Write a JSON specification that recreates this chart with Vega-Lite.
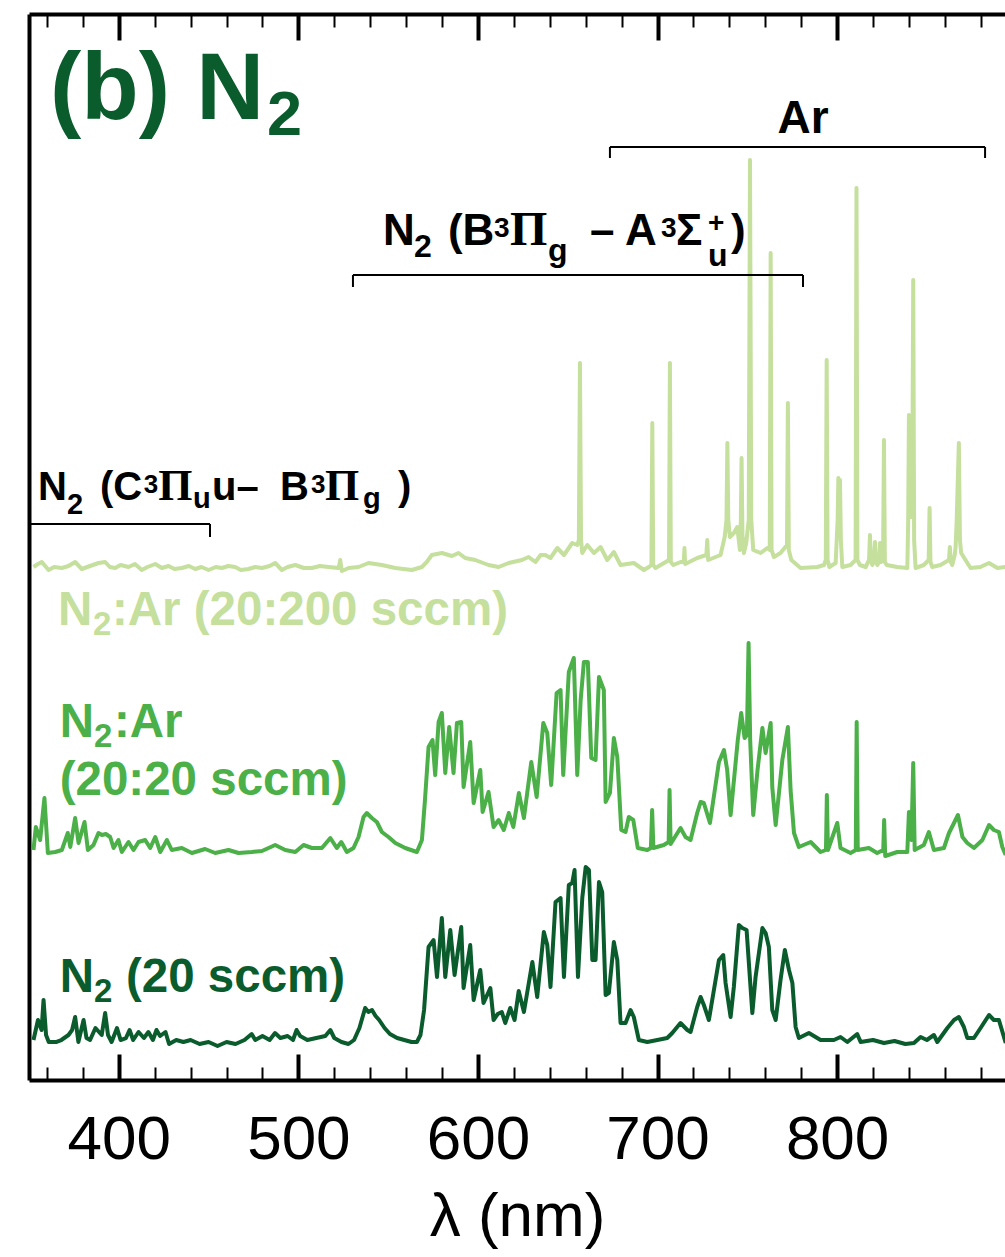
{
"$schema": "https://vega.github.io/schema/vega-lite/v6.json",
"width": 976, "height": 1066,
"autosize": "none",
"padding": {"left": 29, "top": 14, "right": 0, "bottom": 177},
"config": {"view": {"stroke": null}, "font": "Liberation Sans"},
"datasets": {
"n2": [[352.5,40],[355,60],[357,50],[358.1,80],[359.5,45],[361,38],[365,38],[368,40],[372,45],[374,50],[375.7,63],[377.5,38],[380.4,60],[382,42],[384,40],[387,52],[389,48],[390.5,45],[392.4,67],[394,45],[396,38],[399,52],[401,40],[404,42],[406,50],[408,40],[411,48],[414,42],[416.5,48],[419,40],[421,50],[423,44],[426,48],[428,36],[432,40],[436,38],[440,40],[445,36],[450,38],[455,34],[460,38],[465,36],[470,40],[474,46],[476,40],[480,44],[484,40],[487,47],[490,42],[494,44],[497,40],[499,50],[501,44],[505,40],[510,42],[515,44],[517.8,50],[520,42],[524,38],[527.9,36],[531,40],[534,52],[537.2,72],[539,68],[541,70],[543,64],[545,60],[548,52],[551,46],[555,42],[559,40],[563,38],[566,38],[568,45],[570,70],[572.5,133],[575.3,140],[577.2,103],[579.9,162],[581.8,103],[584.6,150],[587,105],[590.7,153],[592,92],[595.7,135],[597.6,80],[601.3,110],[603.1,77],[606.9,92],[608.7,60],[611,66],[613.3,68],[615.2,57],[618,72],[620.4,60],[622.7,89],[625.6,68],[630.3,118],[633,83],[636.7,148],[638.6,135],[640.4,93],[643.2,178],[646,182],[647.9,103],[650.6,195],[652.5,197],[653.8,210],[655.7,103],[658.1,182],[660,213],[661.8,210],[663.7,120],[665.5,120],[667.4,198],[669.2,188],[671.1,85],[672.9,87],[675.7,138],[677.6,120],[679.4,57],[682.2,57],[685,70],[686.8,63],[689.6,40],[694.3,38],[699.9,40],[705.4,42],[708.2,47],[712.8,57],[716.6,50],[718.4,48],[722.1,73],[724,83],[725.8,75],[728.6,60],[734.2,120],[736.6,125],[737.9,97],[740.7,63],[742.5,93],[745.3,155],[747.2,152],[749.6,150],[752.8,67],[754.6,103],[758.4,152],[760.2,147],[762,133],[763.9,70],[765.8,60],[768.5,100],[770.9,130],[773.2,110],[775.1,97],[776.9,53],[778.7,42],[784.3,47],[790.8,40],[798.2,40],[801.9,43],[805.7,38],[811.2,46],[813.1,38],[820,40],[826.1,37],[832,39],[838,36],[842.8,37],[846.5,43],[850,40],[853.9,45],[855.8,38],[861.4,52],[865.1,60],[867.8,63],[870.6,53],[872.5,42],[876.2,42],[879.9,52],[884.6,65],[887.3,60],[890.1,60],[892.9,43],[893.9,37]],
"n2ar20": [[352.5,230],[353.8,253],[356.2,240],[358.6,282],[360.5,227],[364.6,228],[368.3,230],[371.6,247],[373,233],[375.7,262],[377.6,237],[380.9,258],[382.8,230],[385.9,235],[388.7,247],[390.6,245],[392.8,246],[395.2,243],[397.1,232],[399.8,240],[401.7,228],[405.4,238],[408.2,230],[411,238],[414.7,240],[417.5,232],[420.3,243],[423.1,228],[426.8,240],[429.5,230],[435.1,232],[440.7,227],[448.1,231],[453.7,227],[461.1,230],[466.7,227],[474.1,228],[479.7,229],[487.1,235],[492.7,230],[498.3,228],[502.9,235],[507.5,232],[513.1,232],[517.8,242],[521.4,232],[523.9,238],[527,228],[530.7,232],[533.5,243],[536.3,263],[538.1,267],[540.9,262],[543.7,258],[546.5,248],[550.2,243],[554,237],[559.5,232],[566,228],[568.8,240],[570.5,280],[572.5,333],[574.7,340],[576.2,305],[578.1,358],[579.9,367],[581.8,307],[584,353],[586.4,307],[588.3,357],[590.7,358],[592,293],[595.7,338],[597.6,277],[601.3,310],[602.6,268],[605.9,288],[608.7,253],[611.5,260],[614.4,250],[617.2,267],[619.7,253],[622.8,287],[625.6,262],[629.7,318],[632.7,283],[636.4,357],[638.6,347],[640.8,295],[643.8,387],[646,390],[647.5,305],[650.6,408],[653.4,422],[655.3,305],[657.2,380],[659,418],[661.2,418],[663.1,322],[665.5,320],[667.4,403],[670.1,390],[671.1,278],[673.5,287],[675.7,342],[677.6,323],[679.8,250],[682.2,248],[684,263],[686.5,260],[689,232],[694.3,230],[696.3,232],[697,270],[697.7,232],[703.5,235],[706.2,238],[706.7,290],[707.3,236],[712.8,252],[715.6,243],[718.4,240],[722.1,267],[724,278],[725.8,277],[729.2,257],[734.2,318],[737,330],[738.8,310],[740.7,265],[744.7,340],[746.6,367],[748.5,342],[749.8,345],[750.7,437],[751.6,340],[753.3,265],[755.7,310],[758.4,352],[760.2,327],[763,357],[763.9,293],[765.8,255],[769.5,320],[772.6,353],[774.1,290],[776,247],[778.7,233],[785.3,238],[790.8,228],[793.8,230],[794.3,285],[794.9,230],[800.1,257],[801.9,232],[807.5,227],[810.4,230],[810.9,358],[811.5,230],[817.7,232],[822.3,227],[825.7,230],[826.2,260],[826.8,224],[833.5,228],[839.1,228],[840,268],[841.4,240],[842.4,317],[843.2,230],[848.3,235],[851.1,248],[853.9,230],[859.5,232],[862.3,247],[865.1,257],[867.3,265],[869.8,243],[872.5,237],[876.2,232],[880.9,240],[884.6,255],[887.3,250],[890.1,248],[892,233],[893.9,225]],
"n2ar200": [[352.5,513],[355,516],[357.1,518],[360.9,510],[364,513],[368.3,512],[372,514],[375.7,518],[379.4,511],[384,514],[388.7,517],[392.4,518],[395,513],[398,512],[401,515],[405.4,513],[409,516],[412.8,510],[416,513],[420.3,516],[424,512],[427.7,514],[431,511],[435.1,512],[439,514],[442.6,511],[446,513],[450,510],[454,513],[457.4,512],[461,514],[464.8,513],[468,510],[472.2,511],[476,513],[479.7,512],[484,514],[487.1,517],[490.8,510],[494,513],[498.3,515],[503,512],[507.5,512],[512,514],[516.8,513],[522.5,512],[523.3,520],[524.2,509],[528,512],[533.5,513],[539.1,517],[546.5,515],[554,512],[563.2,510],[568.8,513],[571.5,518],[574.3,525],[579.9,527],[585.5,524],[589.2,527],[592.9,522],[598.5,520],[605.9,515],[611.5,513],[617.1,517],[624.5,520],[628.2,523],[632,518],[634.9,525],[637.5,525],[640.4,522],[644.2,532],[647.9,525],[652.5,537],[655.3,535],[656.2,540],[656.8,717],[657.4,540],[658.1,527],[660.9,535],[664.6,527],[668.3,533],[672,520],[675.7,528],[679.4,515],[686.8,517],[692.4,510],[695.2,513],[696.6,515],[697.1,657],[697.6,515],[698.9,512],[703.6,517],[706.4,520],[706.9,717],[707.4,518],[708.8,515],[712.8,518],[714.6,518],[715,532],[715.4,516],[722.1,522],[727.2,525],[727.7,540],[728.2,520],[735.1,525],[737.4,543],[738.4,560],[738.9,637],[739.4,560],[740.3,543],[742.5,547],[744.4,553],[745.9,530],[746.4,560],[746.8,622],[747.3,545],[748.1,527],[749.4,537],[750.8,560],[751.5,920],[752.2,560],[753.3,530],[757.4,527],[761.1,532],[762.5,530],[763,827],[763.5,530],[764.8,523],[768.5,527],[772.1,535],[772.6,677],[773.1,530],[774.5,520],[779.7,512],[789,513],[792.7,515],[793.7,520],[794.2,720],[794.7,520],[795.7,513],[799.2,517],[800.3,560],[800.7,602],[801.1,580],[801.6,600],[802.1,540],[802.9,513],[807.5,515],[810.3,520],[810.8,892],[811.3,520],[812.7,515],[815.9,513],[817.8,520],[818.3,545],[818.8,520],[819.6,515],[820.6,520],[821.1,538],[821.6,518],[822.4,515],[823.4,518],[823.9,537],[824.4,518],[825.6,520],[826.1,640],[826.6,518],[827.6,515],[833.5,513],[839.1,512],[839.6,560],[840,665],[840.5,600],[841.3,563],[841.9,600],[842.4,800],[842.9,540],[843.7,512],[848.3,515],[851,520],[851.5,572],[852,518],[853,513],[857.6,515],[862.3,520],[862.8,533],[863.3,518],[864.1,515],[865.5,525],[866,533],[866.6,560],[867.8,637],[868.4,540],[869.1,527],[871.5,520],[874.3,512],[879.8,513],[884.6,517],[889.3,512],[893.9,513]]
},
"layer": [
{
"data": {"name": "n2"},
"transform": [{"calculate": "datum[0]", "as": "wl"}, {"calculate": "datum[1]", "as": "v"}],
"mark": {"type": "line", "color": "#0A5C2D", "strokeWidth": 4, "strokeJoin": "round", "clip": true},
"encoding": {
"x": {"field": "wl", "type": "quantitative", "scale": {"domain": [350, 893.5], "nice": false, "zero": false},
"axis": {"orient": "bottom", "values": [400, 500, 600, 700, 800],
"tickSize": -26, "tickWidth": 4, "tickColor": "black", "domainWidth": 4, "domainColor": "black",
"labelFontSize": 62, "labelFont": "Liberation Sans", "labelColor": "black", "labelPadding": 55,
"labelFlush": false, "labelOverlap": false, "grid": false,
"title": "λ (nm)", "titleFontSize": 62, "titleFont": "Liberation Sans", "titleFontWeight": "normal", "titleColor": "black", "titlePadding": 16}},
"y": {"field": "v", "type": "quantitative", "scale": {"domain": [0, 1066], "nice": false, "zero": false},
"axis": {"domain": true, "domainWidth": 4, "domainColor": "black", "ticks": false, "labels": false, "title": null, "grid": false}}
}
},
{
"data": {"name": "n2ar200"},
"transform": [{"calculate": "datum[0]", "as": "wl"}, {"calculate": "datum[1]", "as": "v"}],
"mark": {"type": "line", "color": "#C5DF9D", "strokeWidth": 4, "strokeJoin": "round", "clip": true},
"encoding": {
"x": {"field": "wl", "type": "quantitative", "scale": {"domain": [350, 893.5], "nice": false, "zero": false},
"axis": {"orient": "top", "values": [400, 500, 600, 700, 800], "tickSize": -26, "tickWidth": 4, "tickColor": "black", "domainWidth": 4, "domainColor": "black", "labels": false, "grid": false, "title": null}},
"y": {"field": "v", "type": "quantitative", "scale": {"domain": [0, 1066], "nice": false, "zero": false}, "axis": null}
}
},
{
"data": {"name": "n2ar20"},
"transform": [{"calculate": "datum[0]", "as": "wl"}, {"calculate": "datum[1]", "as": "v"}],
"mark": {"type": "line", "color": "#4BB048", "strokeWidth": 4, "strokeJoin": "round", "clip": true},
"encoding": {
"x": {"field": "wl", "type": "quantitative", "scale": {"domain": [350, 893.5], "nice": false, "zero": false},
"axis": {"orient": "bottom", "values": [360,380,420,440,460,480,520,540,560,580,620,640,660,680,720,740,760,780,820,840,860,880], "tickSize": -13, "tickWidth": 2, "tickColor": "black", "domain": false, "labels": false, "grid": false, "title": null}},
"y": {"field": "v", "type": "quantitative", "scale": {"domain": [0, 1066], "nice": false, "zero": false}, "axis": null}
}
},
{
"data": {"values": [{"wl": 673.5, "wl2": 882.4, "v": 933}, {"wl": 530.4, "wl2": 781.0, "v": 805}, {"wl": 351.1, "wl2": 450.8, "v": 556}]},
"mark": {"type": "rule", "color": "black", "strokeWidth": 2},
"encoding": {
"x": {"field": "wl", "type": "quantitative", "scale": {"domain": [350, 893.5], "nice": false, "zero": false},
"axis": {"orient": "top", "values": [360,380,420,440,460,480,520,540,560,580,620,640,660,680,720,740,760,780,820,840,860,880], "tickSize": -13, "tickWidth": 2, "tickColor": "black", "domain": false, "labels": false, "grid": false, "title": null}},
"x2": {"field": "wl2"},
"y": {"field": "v", "type": "quantitative", "scale": {"domain": [0, 1066], "nice": false, "zero": false}, "axis": null}
}
},
{
"data": {"values": [{"wl": 673.5, "v": 933, "v2": 922}, {"wl": 882.4, "v": 933, "v2": 922}, {"wl": 530.4, "v": 805, "v2": 793}, {"wl": 781.0, "v": 805, "v2": 793}, {"wl": 450.8, "v": 556, "v2": 543}]},
"mark": {"type": "rule", "color": "black", "strokeWidth": 2},
"encoding": {
"x": {"field": "wl", "type": "quantitative", "scale": {"domain": [350, 893.5], "nice": false, "zero": false}, "axis": null},
"y": {"field": "v", "type": "quantitative", "scale": {"domain": [0, 1066], "nice": false, "zero": false}, "axis": null},
"y2": {"field": "v2"}
}
},
{
"data": {"values": [{"wl": 361.7, "v": 961, "t": "(b) N"}]},
"mark": {"type": "text", "align": "left", "baseline": "alphabetic", "fontSize": 94, "fontWeight": "bold", "font": "Liberation Sans", "color": "#0A5C2D"},
"encoding": {"x": {"field": "wl", "type": "quantitative", "scale": {"domain": [350, 893.5], "nice": false, "zero": false}, "axis": null}, "y": {"field": "v", "type": "quantitative", "scale": {"domain": [0, 1066], "nice": false, "zero": false}, "axis": null}, "text": {"field": "t"}}
},
{
"data": {"values": [{"wl": 482.5, "v": 945, "t": "2"}]},
"mark": {"type": "text", "align": "left", "baseline": "alphabetic", "fontSize": 63, "fontWeight": "bold", "font": "Liberation Sans", "color": "#0A5C2D"},
"encoding": {"x": {"field": "wl", "type": "quantitative", "scale": {"domain": [350, 893.5], "nice": false, "zero": false}, "axis": null}, "y": {"field": "v", "type": "quantitative", "scale": {"domain": [0, 1066], "nice": false, "zero": false}, "axis": null}, "text": {"field": "t"}}
},
{
"data": {"values": [{"wl": 781.0, "v": 947, "t": "Ar"}]},
"mark": {"type": "text", "align": "center", "baseline": "alphabetic", "fontSize": 46, "fontWeight": "bold", "font": "Liberation Sans", "color": "black"},
"encoding": {"x": {"field": "wl", "type": "quantitative", "scale": {"domain": [350, 893.5], "nice": false, "zero": false}, "axis": null}, "y": {"field": "v", "type": "quantitative", "scale": {"domain": [0, 1066], "nice": false, "zero": false}, "axis": null}, "text": {"field": "t"}}
},
{
"data": {"values": [{"wl": 547.1, "v": 835, "t": "N"}, {"wl": 583.3, "v": 835, "t": "(B"}, {"wl": 662.4, "v": 835, "t": "– A"}, {"wl": 710.3, "v": 835, "t": "Σ"}, {"wl": 740.9, "v": 835, "t": ")"}]},
"mark": {"type": "text", "align": "left", "baseline": "alphabetic", "fontSize": 44, "fontWeight": "bold", "font": "Liberation Sans", "color": "black"},
"encoding": {"x": {"field": "wl", "type": "quantitative", "scale": {"domain": [350, 893.5], "nice": false, "zero": false}, "axis": null}, "y": {"field": "v", "type": "quantitative", "scale": {"domain": [0, 1066], "nice": false, "zero": false}, "axis": null}, "text": {"field": "t"}}
},
{
"data": {"values": [{"wl": 617.8, "v": 835, "t": "Π"}]},
"mark": {"type": "text", "align": "left", "baseline": "alphabetic", "fontSize": 48, "fontWeight": "bold", "font": "Liberation Serif", "color": "black"},
"encoding": {"x": {"field": "wl", "type": "quantitative", "scale": {"domain": [350, 893.5], "nice": false, "zero": false}, "axis": null}, "y": {"field": "v", "type": "quantitative", "scale": {"domain": [0, 1066], "nice": false, "zero": false}, "axis": null}, "text": {"field": "t"}}
},
{
"data": {"values": [{"wl": 564.4, "v": 823, "t": "2"}, {"wl": 639.0, "v": 819, "t": "g"}, {"wl": 728.1, "v": 814, "t": "u"}]},
"mark": {"type": "text", "align": "left", "baseline": "alphabetic", "fontSize": 32, "fontWeight": "bold", "font": "Liberation Sans", "color": "black"},
"encoding": {"x": {"field": "wl", "type": "quantitative", "scale": {"domain": [350, 893.5], "nice": false, "zero": false}, "axis": null}, "y": {"field": "v", "type": "quantitative", "scale": {"domain": [0, 1066], "nice": false, "zero": false}, "axis": null}, "text": {"field": "t"}}
},
{
"data": {"values": [{"wl": 608.9, "v": 843, "t": "3"}, {"wl": 701.9, "v": 843, "t": "3"}, {"wl": 728.1, "v": 848, "t": "+"}]},
"mark": {"type": "text", "align": "left", "baseline": "alphabetic", "fontSize": 28, "fontWeight": "bold", "font": "Liberation Sans", "color": "black"},
"encoding": {"x": {"field": "wl", "type": "quantitative", "scale": {"domain": [350, 893.5], "nice": false, "zero": false}, "axis": null}, "y": {"field": "v", "type": "quantitative", "scale": {"domain": [0, 1066], "nice": false, "zero": false}, "axis": null}, "text": {"field": "t"}}
},
{
"data": {"values": [{"wl": 355.0, "v": 580, "t": "N"}, {"wl": 389.5, "v": 580, "t": "(C"}, {"wl": 451.9, "v": 580, "t": "u–"}, {"wl": 489.8, "v": 580, "t": "B"}, {"wl": 555.5, "v": 580, "t": ")"}]},
"mark": {"type": "text", "align": "left", "baseline": "alphabetic", "fontSize": 40, "fontWeight": "bold", "font": "Liberation Sans", "color": "black"},
"encoding": {"x": {"field": "wl", "type": "quantitative", "scale": {"domain": [350, 893.5], "nice": false, "zero": false}, "axis": null}, "y": {"field": "v", "type": "quantitative", "scale": {"domain": [0, 1066], "nice": false, "zero": false}, "axis": null}, "text": {"field": "t"}}
},
{
"data": {"values": [{"wl": 422.0, "v": 580, "t": "Π"}, {"wl": 514.8, "v": 580, "t": "Π"}]},
"mark": {"type": "text", "align": "left", "baseline": "alphabetic", "fontSize": 44, "fontWeight": "bold", "font": "Liberation Serif", "color": "black"},
"encoding": {"x": {"field": "wl", "type": "quantitative", "scale": {"domain": [350, 893.5], "nice": false, "zero": false}, "axis": null}, "y": {"field": "v", "type": "quantitative", "scale": {"domain": [0, 1066], "nice": false, "zero": false}, "axis": null}, "text": {"field": "t"}}
},
{
"data": {"values": [{"wl": 371.2, "v": 566, "t": "2"}, {"wl": 441.3, "v": 572, "t": "u"}, {"wl": 536.0, "v": 572, "t": "g"}]},
"mark": {"type": "text", "align": "left", "baseline": "alphabetic", "fontSize": 29, "fontWeight": "bold", "font": "Liberation Sans", "color": "black"},
"encoding": {"x": {"field": "wl", "type": "quantitative", "scale": {"domain": [350, 893.5], "nice": false, "zero": false}, "axis": null}, "y": {"field": "v", "type": "quantitative", "scale": {"domain": [0, 1066], "nice": false, "zero": false}, "axis": null}, "text": {"field": "t"}}
},
{
"data": {"values": [{"wl": 413.9, "v": 587, "t": "3"}, {"wl": 507.0, "v": 587, "t": "3"}]},
"mark": {"type": "text", "align": "left", "baseline": "alphabetic", "fontSize": 26, "fontWeight": "bold", "font": "Liberation Sans", "color": "black"},
"encoding": {"x": {"field": "wl", "type": "quantitative", "scale": {"domain": [350, 893.5], "nice": false, "zero": false}, "axis": null}, "y": {"field": "v", "type": "quantitative", "scale": {"domain": [0, 1066], "nice": false, "zero": false}, "axis": null}, "text": {"field": "t"}}
},
{
"data": {"values": [{"wl": 366.2, "v": 455, "t": "N", "s": "light"}, {"wl": 396.2, "v": 455, "t": ":Ar (20:200 sccm)", "s": "light"}, {"wl": 367.1, "v": 343, "t": "N", "s": "mid"}, {"wl": 397.3, "v": 343, "t": ":Ar", "s": "mid"}, {"wl": 367.1, "v": 285, "t": "(20:20 sccm)", "s": "mid"}, {"wl": 367.1, "v": 88, "t": "N", "s": "dark"}, {"wl": 404.0, "v": 88, "t": "(20 sccm)", "s": "dark"}]},
"mark": {"type": "text", "align": "left", "baseline": "alphabetic", "fontSize": 47.5, "fontWeight": "bold", "font": "Liberation Sans"},
"encoding": {"x": {"field": "wl", "type": "quantitative", "scale": {"domain": [350, 893.5], "nice": false, "zero": false}, "axis": null}, "y": {"field": "v", "type": "quantitative", "scale": {"domain": [0, 1066], "nice": false, "zero": false}, "axis": null}, "text": {"field": "t"},
"color": {"field": "s", "type": "nominal", "scale": {"domain": ["light", "mid", "dark"], "range": ["#C5DF9D", "#4BB048", "#0A5C2D"]}, "legend": null}}
},
{
"data": {"values": [{"wl": 385.6, "v": 445, "t": "2", "s": "light"}, {"wl": 386.2, "v": 333, "t": "2", "s": "mid"}, {"wl": 386.2, "v": 78, "t": "2", "s": "dark"}]},
"mark": {"type": "text", "align": "left", "baseline": "alphabetic", "fontSize": 33, "fontWeight": "bold", "font": "Liberation Sans"},
"encoding": {"x": {"field": "wl", "type": "quantitative", "scale": {"domain": [350, 893.5], "nice": false, "zero": false}, "axis": null}, "y": {"field": "v", "type": "quantitative", "scale": {"domain": [0, 1066], "nice": false, "zero": false}, "axis": null}, "text": {"field": "t"},
"color": {"field": "s", "type": "nominal", "scale": {"domain": ["light", "mid", "dark"], "range": ["#C5DF9D", "#4BB048", "#0A5C2D"]}, "legend": null}}
}
],
"resolve": {"axis": {"x": "independent", "y": "independent"}}
}
